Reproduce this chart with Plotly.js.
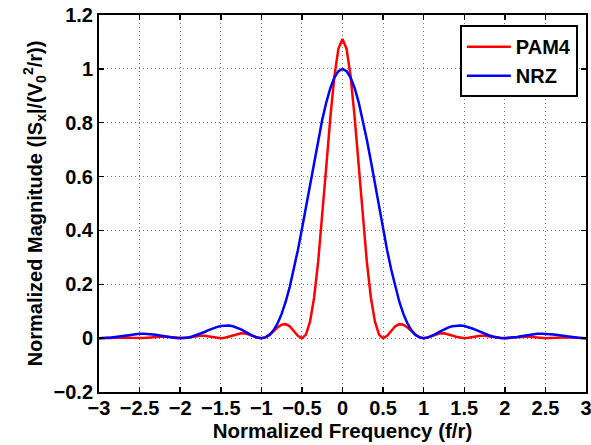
<!DOCTYPE html>
<html>
<head>
<meta charset="utf-8">
<script src="https://cdn.plot.ly/plotly-3.0.1.min.js"></script>
<style>html,body{margin:0;padding:0;background:#fff;}#chart{width:591px;height:445px;}</style>
</head>
<body>
<div id="chart"></div>
<script>
// Normalized frequency (f/r)
var freq = [-3,-2.95,-2.9,-2.85,-2.8,-2.75,-2.7,-2.65,-2.6,-2.55,-2.5,-2.45,-2.4,-2.35,-2.3,-2.25,-2.2,-2.15,-2.1,-2.05,
-2,-1.95,-1.9,-1.85,-1.8,-1.75,-1.7,-1.65,-1.6,-1.55,-1.5,-1.45,-1.4,-1.35,-1.3,-1.25,-1.2,-1.15,-1.1,-1.05,
-1,-0.95,-0.9,-0.85,-0.8,-0.75,-0.7,-0.65,-0.6,-0.55,-0.5,-0.45,-0.4,-0.35,-0.3,-0.25,-0.2,-0.15,-0.1,-0.05,
0,0.05,0.1,0.15,0.2,0.25,0.3,0.35,0.4,0.45,0.5,0.55,0.6,0.65,0.7,0.75,0.8,0.85,0.9,0.95,
1,1.05,1.1,1.15,1.2,1.25,1.3,1.35,1.4,1.45,1.5,1.55,1.6,1.65,1.7,1.75,1.8,1.85,1.9,1.95,
2,2.05,2.1,2.15,2.2,2.25,2.3,2.35,2.4,2.45,2.5,2.55,2.6,2.65,2.7,2.75,2.8,2.85,2.9,2.95,3];

// PAM4 normalized magnitude
var pam4 = [0,0.0003,0.0011,0.0022,0.0032,0.0038,0.0034,0.0027,0.0014,0.0004,0,0.0004,0.0017,0.0033,0.0048,0.0056,0.0052,0.0040,0.0022,0.0007,
0,0.0007,0.0027,0.0053,0.0079,0.0092,0.0088,0.0068,0.0038,0.0011,0,0.0012,0.0050,0.0101,0.0151,0.0180,0.0177,0.0139,0.0080,0.0024,
0,0.003,0.012,0.025,0.040,0.050,0.052,0.044,0.027,0.009,0,0.013,0.061,0.150,0.283,0.450,0.636,0.819,0.972,1.075,
1.111,1.075,0.972,0.819,0.636,0.450,0.283,0.150,0.061,0.013,0,0.009,0.027,0.044,0.052,0.050,0.040,0.025,0.012,0.003,
0,0.0024,0.0080,0.0139,0.0177,0.0180,0.0151,0.0101,0.0050,0.0012,0,0.0011,0.0038,0.0068,0.0088,0.0092,0.0079,0.0053,0.0027,0.0007,
0,0.0007,0.0022,0.0040,0.0052,0.0056,0.0048,0.0033,0.0017,0.0004,0,0.0004,0.0014,0.0027,0.0034,0.0038,0.0032,0.0022,0.0011,0.0003,0];

// NRZ normalized magnitude
var nrz = [0,0.0003,0.0011,0.0026,0.0045,0.0067,0.0091,0.0115,0.0136,0.0152,0.0162,0.0165,0.0159,0.0146,0.0125,0.0100,0.0072,0.0045,0.0022,0.0006,
0,0.0007,0.0027,0.0061,0.0108,0.0165,0.0229,0.0295,0.0358,0.0411,0.0450,0.0470,0.0468,0.0441,0.0392,0.0324,0.0243,0.0158,0.0080,0.0022,
0,0.0027,0.0119,0.0289,0.0547,0.0901,0.1353,0.1904,0.2546,0.3267,0.4053,0.4881,0.5728,0.6566,0.7368,0.8106,0.8751,0.9282,0.9675,0.9918,
1,0.9918,0.9675,0.9282,0.8751,0.8106,0.7368,0.6566,0.5728,0.4881,0.4053,0.3267,0.2546,0.1904,0.1353,0.0901,0.0547,0.0289,0.0119,0.0027,
0,0.0022,0.0080,0.0158,0.0243,0.0324,0.0392,0.0441,0.0468,0.0470,0.0450,0.0411,0.0358,0.0295,0.0229,0.0165,0.0108,0.0061,0.0027,0.0007,
0,0.0006,0.0022,0.0045,0.0072,0.0100,0.0125,0.0146,0.0159,0.0165,0.0162,0.0152,0.0136,0.0115,0.0091,0.0067,0.0045,0.0026,0.0011,0.0003,0];

var seriesNames = ["PAM4", "NRZ"];
var seriesColors = ["#ff0000", "#0000ff"];

var FONT = "Liberation Sans, Arial, Helvetica, sans-serif";

var traces = [
  {x: freq, y: pam4, name: seriesNames[0], type: "scatter", mode: "lines",
   line: {color: seriesColors[0], width: 2.5}},
  {x: freq, y: nrz, name: seriesNames[1], type: "scatter", mode: "lines",
   line: {color: seriesColors[1], width: 2.5}}
];

var axisCommon = {
  showline: true, linecolor: "#000", linewidth: 2, mirror: "ticks",
  ticks: "inside", ticklen: 5, tickwidth: 1.5, tickcolor: "#000",
  showgrid: true, gridcolor: "#777", griddash: "1px,3px", gridwidth: 1,
  zeroline: false, ticklabeloverflow: "allow",
  tickfont: {family: FONT, size: 20, color: "#000", weight: "bold"}
};

var layout = {
  width: 591, height: 445,
  margin: {l: 99, r: 5, t: 15, b: 53},
  paper_bgcolor: "#fff", plot_bgcolor: "#fff",
  showlegend: true,
  font: {family: FONT, color: "#000"},
  xaxis: Object.assign({}, axisCommon, {
    range: [-3, 3], dtick: 0.5, tick0: -3, ticklabelstandoff: -3,
    title: {text: "Normalized Frequency (f/r)", standoff: 0,
            font: {family: FONT, size: 20.5, color: "#000", weight: "bold"}}
  }),
  yaxis: Object.assign({}, axisCommon, {
    range: [-0.2, 1.2], dtick: 0.2, tick0: -0.2,
    title: {text: "Normalized Magnitude (|S<sub>x</sub>|/(V<sub>0</sub><sup>2</sup>/r))", standoff: 6,
            font: {family: FONT, size: 20, color: "#000", weight: "bold"}}
  }),
  legend: {
    x: 0.741, y: 0.973, xanchor: "left", yanchor: "top",
    bgcolor: "#fff", bordercolor: "#000", borderwidth: 2,
    font: {family: FONT, size: 20, color: "#000", weight: "bold"},
    itemwidth: 44, tracegroupgap: 0
  }
};

Plotly.newPlot("chart", traces, layout, {staticPlot: true, displayModeBar: false});
</script>
</body>
</html>
